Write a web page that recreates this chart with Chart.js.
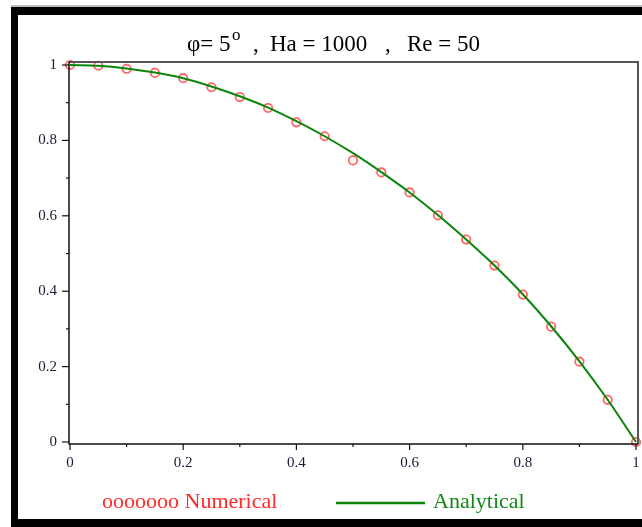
<!DOCTYPE html>
<html>
<head>
<meta charset="utf-8">
<script src="https://cdn.jsdelivr.net/npm/chart.js@4.4.1/dist/chart.umd.min.js"></script>
<style>
  html, body { margin: 0; padding: 0; background: #fff; }
  canvas { display: block; }
</style>
</head>
<body>
<canvas id="chart" width="642" height="527"></canvas>
<script>
const xValues = [0, 0.05, 0.1, 0.15, 0.2, 0.25, 0.3, 0.35, 0.4, 0.45, 0.5,
                 0.55, 0.6, 0.65, 0.7, 0.75, 0.8, 0.85, 0.9, 0.95, 1];
const numerical = [1.0, 0.998, 0.99, 0.979, 0.965, 0.941, 0.915, 0.886, 0.848, 0.811, 0.747,
                   0.715, 0.662, 0.601, 0.537, 0.468, 0.391, 0.306, 0.213, 0.112, 0.0];
const analytical = [1.0, 0.998, 0.991, 0.980, 0.965, 0.943, 0.917, 0.887, 0.851, 0.811, 0.766,
                    0.716, 0.662, 0.602, 0.537, 0.468, 0.392, 0.307, 0.214, 0.112, 0.0];
const tickValues = [0, 0.2, 0.4, 0.6, 0.8, 1];

const serif = '"Liberation Serif", "Times New Roman", serif';
const labelColor = '#1a1a36';

const toPoints = (ys) => xValues.map((x, i) => ({ x: x, y: ys[i] }));
const tickLabel = (v) => {
    const hit = tickValues.find(t => Math.abs(t - v) < 1e-6);
    return hit === undefined ? '' : String(hit);
};

// frame, box, tick marks, title and legend
const decorations = {
    id: 'decorations',
    beforeDraw(chart) {
        const ctx = chart.ctx;
        ctx.save();
        ctx.fillStyle = '#fff';
        ctx.fillRect(0, 0, chart.width, chart.height);
        ctx.fillStyle = '#bdbdbd';
        ctx.fillRect(11, 5, 631, 2);
        ctx.fillStyle = '#000';
        ctx.fillRect(11, 7, 631, 8);
        ctx.fillRect(11, 7, 7, 520);
        ctx.fillRect(11, 519, 631, 8);
        ctx.restore();
    },
    afterDraw(chart) {
        const ctx = chart.ctx;
        const a = chart.chartArea;
        const xs = chart.scales.x;
        const ys = chart.scales.y;
        ctx.save();

        // top and right edges of the plot box
        ctx.strokeStyle = '#555';
        ctx.lineWidth = 2;
        ctx.beginPath();
        ctx.moveTo(a.left - 1, a.top - 3);
        ctx.lineTo(a.right + 2, a.top - 3);
        ctx.lineTo(a.right + 2, a.bottom + 2);
        ctx.stroke();

        // axis lines
        ctx.strokeStyle = '#111';
        ctx.lineWidth = 1.5;
        ctx.beginPath();
        ctx.moveTo(a.left - 1, a.top - 3);
        ctx.lineTo(a.left - 1, a.bottom + 2);
        ctx.lineTo(a.right + 2, a.bottom + 2);
        ctx.stroke();

        // tick marks
        ctx.lineWidth = 1.2;
        for (let i = 0; i <= 10; i++) {
            const v = i / 10;
            const major = i % 2 === 0;
            const px = xs.getPixelForValue(v);
            ctx.beginPath();
            ctx.moveTo(px, a.bottom + 2);
            ctx.lineTo(px, a.bottom + 2 + (major ? 6 : 3));
            ctx.stroke();
            const py = ys.getPixelForValue(v);
            ctx.beginPath();
            ctx.moveTo(a.left - 1, py);
            ctx.lineTo(a.left - 1 - (major ? 7 : 3), py);
            ctx.stroke();
        }

        // title
        ctx.fillStyle = '#000';
        ctx.textBaseline = 'alphabetic';
        ctx.textAlign = 'left';
        const base = 51;
        ctx.font = '23px ' + serif;
        ctx.fillText('\u03c6= 5', 187, base);
        ctx.font = '17px ' + serif;
        ctx.fillText('o', 232, base - 11);
        ctx.font = '23px ' + serif;
        ctx.fillText(',', 253, base);
        ctx.fillText('Ha = 1000', 270, base);
        ctx.fillText(',', 385, base);
        ctx.fillText('Re = 50', 407, base);

        // legend
        ctx.font = '22px ' + serif;
        ctx.textBaseline = 'middle';
        ctx.fillStyle = '#ff2a2a';
        ctx.fillText('ooooooo Numerical', 102, 502);
        ctx.strokeStyle = '#0b850b';
        ctx.lineWidth = 2.5;
        ctx.beginPath();
        ctx.moveTo(336, 503);
        ctx.lineTo(425, 503);
        ctx.stroke();
        ctx.fillStyle = '#13881a';
        ctx.fillText('Analytical', 433, 502);

        ctx.restore();
    }
};

new Chart(document.getElementById('chart'), {
    type: 'scatter',
    data: {
        datasets: [
            {
                label: 'Numerical',
                data: toPoints(numerical),
                showLine: false,
                pointStyle: 'circle',
                pointRadius: 4.2,
                pointBorderWidth: 1.8,
                pointBorderColor: 'rgba(255, 50, 50, 0.75)',
                pointBackgroundColor: 'rgba(255, 255, 255, 0)',
                clip: false,
                order: 1
            },
            {
                label: 'Analytical',
                data: toPoints(analytical),
                showLine: true,
                borderColor: '#0b850b',
                borderWidth: 2,
                pointRadius: 0,
                cubicInterpolationMode: 'monotone',
                clip: false,
                order: 0
            }
        ]
    },
    options: {
        responsive: false,
        animation: false,
        layout: { padding: { top: 65, right: 4, bottom: 40, left: 0 } },
        plugins: {
            legend: { display: false },
            title: { display: false },
            tooltip: { enabled: false }
        },
        scales: {
            x: {
                type: 'linear',
                min: 0,
                max: 1,
                grid: { display: false },
                border: { display: false },
                afterFit: (scale) => {
                    scale.height = 45;
                    scale.paddingLeft = 0;
                    scale.paddingRight = 0;
                },
                ticks: {
                    stepSize: 0.1,
                    autoSkip: false,
                    maxRotation: 0,
                    padding: 4,
                    color: labelColor,
                    font: { family: serif, size: 15 },
                    callback: tickLabel
                }
            },
            y: {
                type: 'linear',
                min: 0,
                max: 1,
                grid: { display: false },
                border: { display: false },
                afterFit: (scale) => {
                    scale.width = 70;
                    scale.paddingTop = 0;
                    scale.paddingBottom = 0;
                },
                ticks: {
                    stepSize: 0.1,
                    autoSkip: false,
                    padding: 5,
                    color: labelColor,
                    font: { family: serif, size: 15 },
                    callback: tickLabel
                }
            }
        }
    },
    plugins: [decorations]
});
</script>
</body>
</html>
